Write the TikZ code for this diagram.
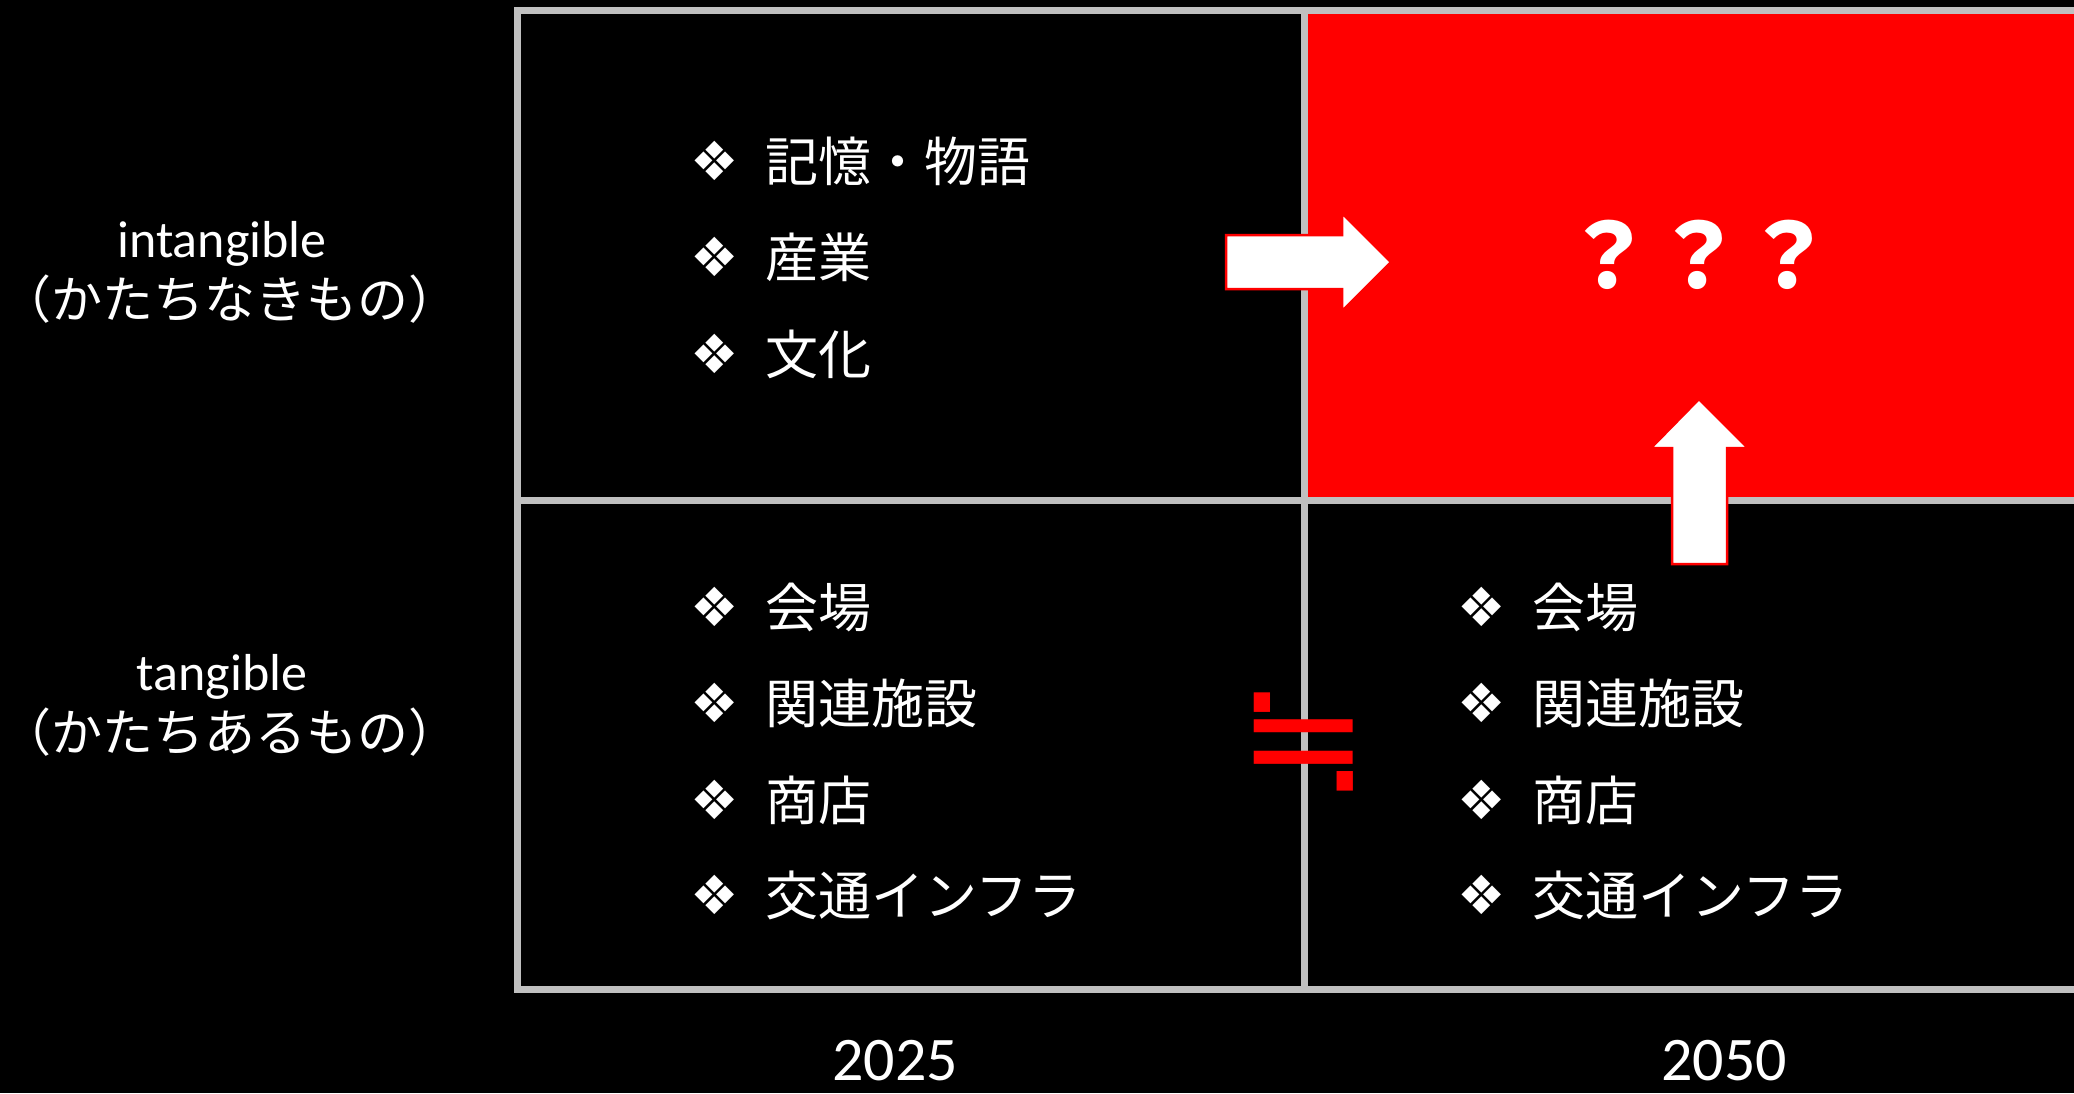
\documentclass[tikz,border=0pt]{standalone}
\usepackage{fontspec}
\newfontfamily\latf{Carlito}
\newfontfamily\jpf{Noto Sans CJK JP}
\newfontfamily\symf{DejaVu Sans}
\definecolor{gridgray}{HTML}{C0C0C0}
\definecolor{hotred}{HTML}{FF0000}
\begin{document}
\begin{tikzpicture}[x=1pt,y=-1pt,
  gridline/.style={draw=gridgray,line width=7pt},
  axislabel/.style={text=white,inner sep=0pt,anchor=base,font=\latf\fontsize{52}{62}\selectfont},
  kana/.style={text=white,inner sep=0pt,anchor=base,font=\jpf\fontsize{51}{62}\selectfont},
  bulletmark/.style={text=white,inner sep=0pt,anchor=center,font=\symf\fontsize{54}{60}\selectfont},
  itemtext/.style={text=white,inner sep=0pt,anchor=base west,font=\jpf\fontsize{53}{60}\selectfont},
  yearlabel/.style={text=white,inner sep=0pt,anchor=base,font=\latf\fontsize{62}{70}\selectfont},
  blockarrow/.style={fill=white,draw=hotred,line width=2.5pt,line join=miter}
]
\fill[black] (0,0) rectangle (2074,1093);
\useasboundingbox (0,0) rectangle (2074,1093);
\clip (0,0) rectangle (2074,1093);

% red cell
\fill[hotred] (1304,10) rectangle (2090,500);

% grid
\draw[gridline] (2090,10) -- (517,10) -- (517,989) -- (2090,989);
\draw[gridline] (517,500) -- (2090,500);
\draw[gridline] (1304,10) -- (1304,989);

% row labels
\node[axislabel] (intang) at (222,257) {intangible};
\node[kana] (intangjp) at (230,318) {（かたちなきもの）};
\node[axislabel] (tang) at (222,690) {tangible};
\node[kana] (tangjp) at (230,751) {（かたちあるもの）};

% top-left items
\node[bulletmark] (b1) at (715,161) {❖};
\node[itemtext] (t1) at (765,181) {記憶・物語};
\node[bulletmark] (b2) at (715,257) {❖};
\node[itemtext] (t2) at (765,277) {産業};
\node[bulletmark] (b3) at (715,354) {❖};
\node[itemtext] (t3) at (765,374) {文化};

% bottom-left items
\node[bulletmark] (b4) at (715,607) {❖};
\node[itemtext] (t4) at (765,627) {会場};
\node[bulletmark] (b5) at (715,703) {❖};
\node[itemtext] (t5) at (765,723) {関連施設};
\node[bulletmark] (b6) at (715,800) {❖};
\node[itemtext] (t6) at (765,820) {商店};
\node[bulletmark] (b7) at (715,895) {❖};
\node[itemtext] (t7) at (765,915) {交通インフラ};

% bottom-right items
\node[bulletmark] (c4) at (1482,607) {❖};
\node[itemtext] (u4) at (1532,627) {会場};
\node[bulletmark] (c5) at (1482,703) {❖};
\node[itemtext] (u5) at (1532,723) {関連施設};
\node[bulletmark] (c6) at (1482,800) {❖};
\node[itemtext] (u6) at (1532,820) {商店};
\node[bulletmark] (c7) at (1482,895) {❖};
\node[itemtext] (u7) at (1532,915) {交通インフラ};

% question marks
\node[text=white,inner sep=0pt,anchor=base,font=\jpf\bfseries\fontsize{90}{94}\selectfont] (qqq) at (1698,288) {？？？};

% nearly-equal sign
\node[text=hotred,inner sep=0pt,anchor=base,font=\symf\fontsize{158}{160}\selectfont] (approx) at (1304,791) {≒};

% years
\node[yearlabel] (y2025) at (895,1080) {2025};
\node[yearlabel] (y2050) at (1724,1080) {2050};

% block arrows
\draw[blockarrow] (1226,235) -- (1342,235) -- (1342,213) -- (1391,262) -- (1342,311) -- (1342,289) -- (1226,289) -- cycle;
\draw[blockarrow] (1672,564) -- (1672,448) -- (1651,448) -- (1699,399) -- (1748,448) -- (1727,448) -- (1727,564) -- cycle;
\end{tikzpicture}
\end{document}
